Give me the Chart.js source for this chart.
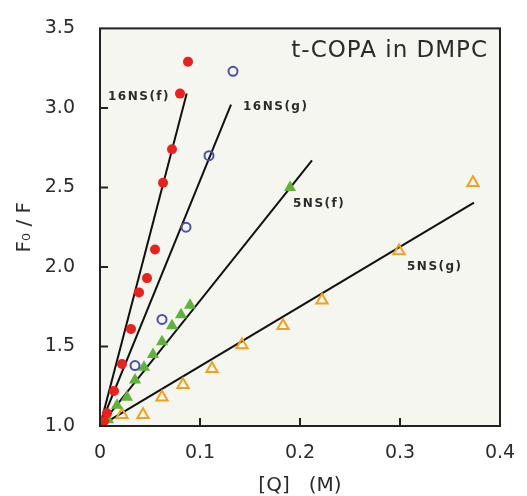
<!DOCTYPE html>
<html lang="en">
<head>
    <meta charset="UTF-8">
    <title>t-COPA in DMPC</title>
    <script src="https://cdn.jsdelivr.net/npm/chart.js@4.4.1/dist/chart.umd.min.js"></script>
    <style>
        body { margin: 0; background: #fff; }
    </style>
</head>
<body>

<canvas id="sv-chart" width="527" height="496"></canvas>

<script>
    // [Q] (M) and F0/F
    const q16f = [0.004, 0.007, 0.014, 0.022, 0.031, 0.039, 0.047, 0.055, 0.063, 0.072, 0.080, 0.088];
    const f16f = [1.03, 1.08, 1.22, 1.39, 1.61, 1.84, 1.93, 2.11, 2.53, 2.74, 3.09, 3.29];

    const q16g = [0.035, 0.062, 0.086, 0.109, 0.133];
    const f16g = [1.38, 1.67, 2.25, 2.70, 3.23];

    const q5f = [0.008, 0.017, 0.027, 0.035, 0.044, 0.053, 0.062, 0.072, 0.081, 0.090, 0.190];
    const f5f = [1.04, 1.13, 1.18, 1.29, 1.37, 1.45, 1.53, 1.63, 1.70, 1.76, 2.50];

    const q5g = [0.022, 0.043, 0.062, 0.083, 0.112, 0.142, 0.183, 0.222, 0.299, 0.373];
    const f5g = [1.07, 1.07, 1.18, 1.26, 1.36, 1.51, 1.63, 1.79, 2.10, 2.53];

    // fitted lines: start and end points
    const fitNames = ['16NS(f)', '16NS(g)', '5NS(f)', '5NS(g)'];
    const fitQ = [[0, 0.0867], [0, 0.131], [0, 0.212], [0, 0.374]];
    const fitF = [[1, 3.09], [1, 3.02], [1, 2.67], [1, 2.405]];

    const xTicks = [0, 0.1, 0.2, 0.3, 0.4];
    const yTicks = [1.0, 1.5, 2.0, 2.5, 3.0, 3.5];

    const textColor = '#2b2b2b';

    function pts(xs, ys) {
        return xs.map((x, i) => ({x: x, y: ys[i]}));
    }

    // text placed in data units: [text, x, y, align, font, spacing]
    const notes = [
        ['t-COPA in DMPC', 0.388, 3.358, 'right', '23px "DejaVu Sans"', '1px'],
        ['16NS(f)', 0.008, 3.067, 'left', 'bold 12px "DejaVu Sans"', '1.5px'],
        ['16NS(g)', 0.143, 3.005, 'left', 'bold 12px "DejaVu Sans"', '1.5px'],
        ['5NS(f)', 0.193, 2.399, 'left', 'bold 12px "DejaVu Sans"', '1.5px'],
        ['5NS(g)', 0.307, 2.002, 'left', 'bold 12px "DejaVu Sans"', '1.5px']
    ];

    const framePlugin = {
        id: 'frame',
        beforeDatasetsDraw(chart) {
            const {ctx, chartArea: a} = chart;
            ctx.save();
            ctx.fillStyle = '#f4f6ef';
            ctx.fillRect(a.left, a.top, a.right - a.left, a.bottom - a.top);
            ctx.restore();
        },
        afterDraw(chart) {
            const {ctx, chartArea: a, scales} = chart;
            ctx.save();
            ctx.strokeStyle = '#222';
            ctx.lineWidth = 2;
            ctx.strokeRect(a.left, a.top, a.right - a.left, a.bottom - a.top);
            ctx.beginPath();
            xTicks.slice(1, -1).forEach(v => {
                const px = scales.x.getPixelForValue(v);
                ctx.moveTo(px, a.bottom);
                ctx.lineTo(px, a.bottom - 8);
            });
            yTicks.slice(1, -1).forEach(v => {
                const py = scales.y.getPixelForValue(v);
                ctx.moveTo(a.left, py);
                ctx.lineTo(a.left + 8, py);
            });
            ctx.stroke();

            ctx.fillStyle = textColor;
            ctx.textBaseline = 'middle';
            notes.forEach(n => {
                ctx.font = n[4];
                ctx.letterSpacing = n[5];
                ctx.textAlign = n[3];
                ctx.fillText(n[0], scales.x.getPixelForValue(n[1]), scales.y.getPixelForValue(n[2]));
            });
            ctx.restore();
        }
    };

    const lineSets = fitNames.map((name, i) => ({
        type: 'line',
        label: name + ' fit',
        data: pts(fitQ[i], fitF[i]),
        borderColor: '#111',
        borderWidth: 2,
        pointRadius: 0,
        showLine: true,
        fill: false,
        order: 2
    }));

    const chartObj = {
        type: 'scatter',
        data: {
            datasets: [
                {
                    label: '16NS(f)',
                    data: pts(q16f, f16f),
                    pointStyle: 'circle',
                    pointRadius: 5,
                    pointBackgroundColor: '#e8221c',
                    pointBorderWidth: 0,
                    order: 1
                },
                {
                    label: '16NS(g)',
                    data: pts(q16g, f16g),
                    pointStyle: 'circle',
                    pointRadius: 4.5,
                    pointBackgroundColor: 'rgba(0,0,0,0)',
                    pointBorderColor: '#4a4eb0',
                    pointBorderWidth: 2,
                    order: 1
                },
                {
                    label: '5NS(f)',
                    data: pts(q5f, f5f),
                    pointStyle: 'triangle',
                    pointRadius: 7,
                    pointBackgroundColor: '#5fb33a',
                    pointBorderWidth: 0,
                    order: 1
                },
                {
                    label: '5NS(g)',
                    data: pts(q5g, f5g),
                    pointStyle: 'triangle',
                    pointRadius: 6.5,
                    pointBackgroundColor: 'rgba(0,0,0,0)',
                    pointBorderColor: '#f2a01e',
                    pointBorderWidth: 2,
                    order: 1
                }
            ].concat(lineSets)
        },
        options: {
            responsive: false,
            animation: false,
            layout: {
                padding: {left: 15, top: 22, right: 27, bottom: 0}
            },
            plugins: {
                legend: {display: false},
                tooltip: {enabled: false}
            },
            scales: {
                x: {
                    type: 'linear',
                    min: 0,
                    max: 0.4,
                    afterFit: s => { s.height = 70; },
                    afterBuildTicks: s => { s.ticks = xTicks.map(v => ({value: v})); },
                    grid: {display: false},
                    border: {display: false},
                    ticks: {
                        padding: 8,
                        color: textColor,
                        font: {family: 'DejaVu Sans', size: 19},
                        callback: v => v === 0 ? '0' : v.toFixed(1)
                    },
                    title: {
                        display: true,
                        text: '[Q]   (M)',
                        color: textColor,
                        padding: 0,
                        font: {family: 'DejaVu Sans', size: 20, lineHeight: 1}
                    }
                },
                y: {
                    type: 'linear',
                    min: 1.0,
                    max: 3.5,
                    afterFit: s => { s.width = 85; },
                    afterBuildTicks: s => { s.ticks = yTicks.map(v => ({value: v})); },
                    grid: {display: false},
                    border: {display: false},
                    ticks: {
                        padding: 17,
                        color: textColor,
                        font: {family: 'DejaVu Sans', size: 19},
                        callback: v => v.toFixed(1)
                    },
                    title: {
                        display: true,
                        text: 'F₀ / F',
                        color: textColor,
                        padding: 0,
                        font: {family: 'DejaVu Sans', size: 20, lineHeight: 1}
                    }
                }
            }
        },
        plugins: [framePlugin]
    };

    new Chart('sv-chart', chartObj);
</script>

</body>
</html>
